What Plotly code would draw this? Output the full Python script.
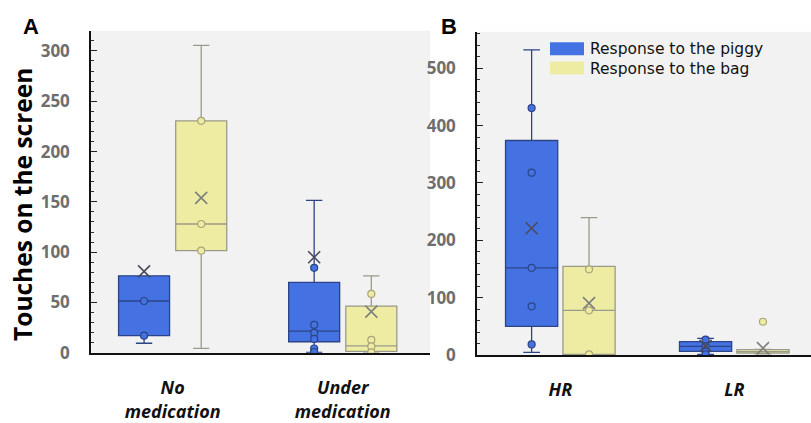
import plotly.graph_objects as go

# ---- data -------------------------------------------------------------
cats_a = ["No<br>medication", "Under<br>medication"]
cats_b = ["HR", "LR"]

# box statistics per group (piggy = blue, bag = yellow)
piggy_a_q1 = [17, 11]
piggy_a_med = [51.5, 21.5]
piggy_a_q3 = [76.5, 70]
piggy_a_lo = [9.5, 0.5]
piggy_a_hi = [76.5, 151.5]
piggy_a_mean = [81, 95]
piggy_a_pts = [[17, 51.5], [84.5, 27.8, 20, 13.8, 4.3, 0.8]]

bag_a_q1 = [101.5, 1.5]
bag_a_med = [128, 7]
bag_a_q3 = [230.5, 46.5]
bag_a_lo = [4.5, 0]
bag_a_hi = [305.5, 76.5]
bag_a_mean = [154, 41]
bag_a_pts = [[230.5, 128, 101.5], [58.5, 12.8, 6.4, 0.5]]

piggy_b_q1 = [50, 6.5]
piggy_b_med = [152, 15]
piggy_b_q3 = [374, 23.5]
piggy_b_lo = [4.5, 1]
piggy_b_hi = [532, 29]
piggy_b_mean = [221, 16]
piggy_b_pts = [[430.5, 318, 152, 85, 18.5], [27, 15, 6, 1]]

bag_b_q1 = [1, 3.5]
bag_b_med = [78, 6]
bag_b_q3 = [154.5, 9.5]
bag_b_lo = [1, 2]
bag_b_hi = [239.5, 10]
bag_b_mean = [90.5, 12]
bag_b_pts = [[149.5, 78, 1], [58]]

series_names = ["Response to the piggy", "Response to the bag"]

# ---- styling ----------------------------------------------------------
BLUE = "#4472e2"
BLUE_EDGE = "#2c4486"
YEL = "#eeeca2"
YEL_EDGE = "#9a9a8a"
W = 811
H = 423

fig = go.Figure()


def add_group(xa, ya, offset, q1, med, q3, lo, hi, mean, pts, fill, edge, ptfill, ptedge, xcol):
    xs = [i + offset for i in range(len(q1))]
    fig.add_trace(go.Box(
        x=xs, q1=q1, median=med, q3=q3, lowerfence=lo, upperfence=hi,
        width=0.3, whiskerwidth=0.32, fillcolor=fill,
        line=dict(color=edge, width=1.3), boxpoints=False,
        xaxis=xa, yaxis=ya, showlegend=False, hoverinfo="skip"))
    px, py = [], []
    for i, vals in enumerate(pts):
        px += [i + offset] * len(vals)
        py += vals
    fig.add_trace(go.Scatter(
        x=px, y=py, mode="markers", xaxis=xa, yaxis=ya, showlegend=False,
        marker=dict(symbol="circle", size=7, color=ptfill,
                    line=dict(color=ptedge, width=1.2)), hoverinfo="skip"))
    fig.add_trace(go.Scatter(
        x=xs, y=mean, mode="markers", xaxis=xa, yaxis=ya, showlegend=False,
        marker=dict(symbol="x-thin", size=12, line=dict(color=xcol, width=1.6)),
        hoverinfo="skip"))


add_group("x", "y", -0.168, piggy_a_q1, piggy_a_med, piggy_a_q3, piggy_a_lo, piggy_a_hi,
          piggy_a_mean, piggy_a_pts, BLUE, BLUE_EDGE, BLUE, BLUE_EDGE, "#4a4a5a")
add_group("x", "y", 0.168, bag_a_q1, bag_a_med, bag_a_q3, bag_a_lo, bag_a_hi,
          bag_a_mean, bag_a_pts, YEL, YEL_EDGE, YEL, "#a8a57a", "#7f7f7f")
add_group("x2", "y2", -0.165, piggy_b_q1, piggy_b_med, piggy_b_q3, piggy_b_lo, piggy_b_hi,
          piggy_b_mean, piggy_b_pts, BLUE, BLUE_EDGE, BLUE, BLUE_EDGE, "#4a4a5a")
add_group("x2", "y2", 0.165, bag_b_q1, bag_b_med, bag_b_q3, bag_b_lo, bag_b_hi,
          bag_b_mean, bag_b_pts, YEL, YEL_EDGE, YEL, "#a8a57a", "#7f7f7f")

TICKFONT = dict(family="Open Sans", size=17, color="#6e6e6e", weight="bold")
XFONT = dict(family="Open Sans", size=18, color="#111111", weight="bold", style="italic")


def yaxis_style(domain, rng, dtick, minor_dtick):
    return dict(domain=domain, range=rng, dtick=dtick, showgrid=False, zeroline=False,
                showline=True, linecolor="#111111", linewidth=1.5,
                ticks="inside", ticklen=6, tickwidth=1.2, tickcolor="#222222",
                minor=dict(dtick=minor_dtick, ticks="inside", ticklen=3.5,
                           tickwidth=1, tickcolor="#333333"),
                tickfont=TICKFONT, ticklabelstandoff=16, fixedrange=True)


def xaxis_style(domain, rng, labels, anchor):
    return dict(domain=domain, range=rng, tickvals=list(range(len(labels))), ticktext=labels,
                showgrid=False, zeroline=False, showline=True, linecolor="#111111",
                linewidth=1.5, ticks="", tickfont=XFONT, anchor=anchor,
                ticklabelstandoff=18, fixedrange=True)


fig.update_layout(
    width=W, height=H, margin=dict(l=0, r=0, t=0, b=0),
    paper_bgcolor="white", plot_bgcolor="#f2f2f2", showlegend=False,
    xaxis=xaxis_style([91 / W, 430 / W], [-0.48, 1.513], cats_a, "y"),
    yaxis=yaxis_style([1 - 366.7 / H, 1 - 32 / H], [0, 320], 50, 10),
    xaxis2=xaxis_style([477 / W, 1.0], [-0.479, 1.441], cats_b, "y2"),
    yaxis2=yaxis_style([1 - 369 / H, 1 - 33 / H], [0, 563.6], 100, 20),
)
fig.layout.yaxis2.anchor = "x2"

# legend: two colour swatches and a two-line label block
leg_colors = [BLUE, YEL]
leg_tops = [44, 64]
for col, ytop in zip(leg_colors, leg_tops):
    fig.add_shape(type="rect", xref="paper", yref="paper",
                  x0=550 / W, x1=584 / W, y0=1 - (ytop + 13.5) / H, y1=1 - ytop / H,
                  fillcolor=col, line=dict(width=0))
fig.add_annotation(xref="paper", yref="paper", x=588 / W, y=1 - 61 / H,
                   xanchor="left", yanchor="middle", showarrow=False, align="left",
                   text="<br>".join(series_names),
                   font=dict(family="DejaVu Sans", size=15.5, color="#111111"))

# panel letters and y title
fig.add_annotation(xref="paper", yref="paper", x=31 / W, y=1 - 28 / H, text="<b>A</b>",
                   xanchor="center", yanchor="middle", showarrow=False,
                   font=dict(family="Liberation Sans", size=22, color="black"))
fig.add_annotation(xref="paper", yref="paper", x=449 / W, y=1 - 28 / H, text="<b>B</b>",
                   xanchor="center", yanchor="middle", showarrow=False,
                   font=dict(family="Liberation Sans", size=22, color="black"))
fig.add_annotation(xref="paper", yref="paper", x=23 / W, y=1 - 213 / H,
                   xanchor="center", yanchor="middle",
                   text="<b>Touches on the screen</b>", textangle=-90, showarrow=False,
                   font=dict(family="Open Sans", size=24.5, color="black"))

fig.write_html("out.html")
